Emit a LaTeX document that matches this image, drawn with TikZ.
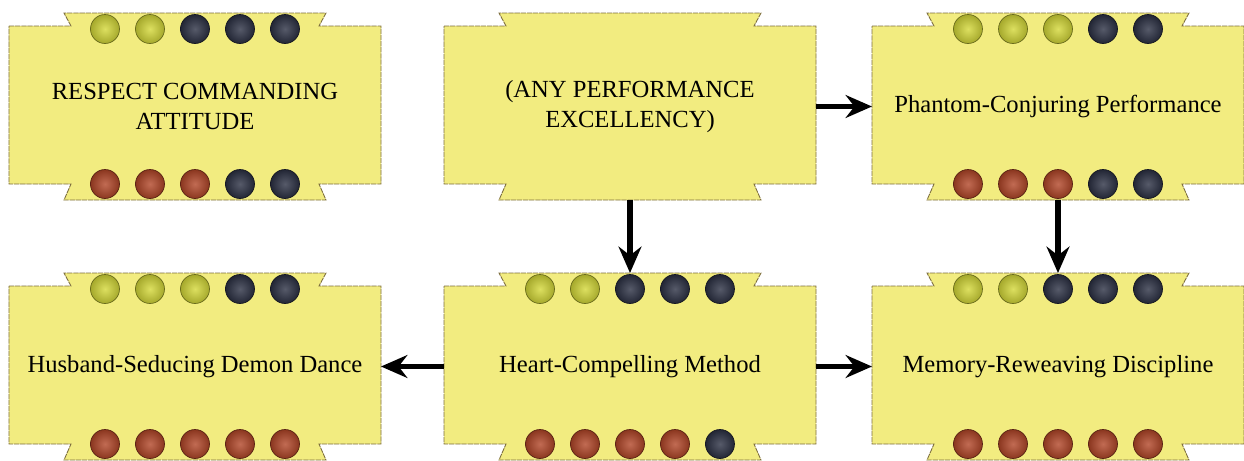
\documentclass[tikz,border=0pt]{standalone}
\usepackage{fontspec}
\setmainfont{Liberation Serif}
\usepackage{xcolor}
\usepackage{tikz}
\usetikzlibrary{arrows.meta, positioning, backgrounds, calc}
\definecolor{bannerfill}{RGB}{242,236,128}
\definecolor{bannerline}{RGB}{125,110,62}
\definecolor{gemy}{RGB}{212,216,56}
\definecolor{gemd}{RGB}{44,49,68}
\definecolor{gemr}{RGB}{178,70,40}

\begin{document}
\begin{tikzpicture}[
      node distance=1.46cm and 1.26cm,
      skill/.style={minimum width=7.44cm, minimum height=3.74cm, inner sep=0pt,
                    outer sep=0pt, align=center, font=\fontsize{14}{17}\selectfont},
      banner/.style={fill=bannerfill, draw=bannerline, line width=0.5pt,
                     dash pattern=on 3pt off 0.5pt},
      gem/.style={inner color=#1!80!white, outer color=#1!78!black,
                  draw=#1!50!black, line width=0.4pt},
      arr/.style={-{Stealth[length=15pt, width=13pt, inset=5pt]}, line width=2.9pt}
  ]
    \node[skill]                    (rca) {RESPECT COMMANDING\\ATTITUDE};
    \node[skill, right=of rca]      (ape) {(ANY PERFORMANCE\\EXCELLENCY)};
    \node[skill, right=1.12cm of ape] (pcp) {Phantom-Conjuring Performance};
    \node[skill, below=of ape]      (hcm) {Heart-Compelling Method};
    \node[skill, left=of hcm]       (hsd) {Husband-Seducing Demon Dance};
    \node[skill, below=of pcp]      (mrd) {Memory-Reweaving Discipline};

    \useasboundingbox ($(rca.north west)+(-0.18,0.26)$) rectangle ++(24.88,-9.18);

    % notched banners behind the texts
    \begin{scope}[on background layer]
      \foreach \n in {rca,ape,pcp,hsd,hcm,mrd}
        \draw[banner] ($(\n.north west)+(0,-0.26)$) -- ($(\n.north west)+(1.24,-0.26)$)
          -- ($(\n.north west)+(1.1,0)$) -- ($(\n.north east)+(-1.1,0)$)
          -- ($(\n.north east)+(-1.24,-0.26)$) -- ($(\n.north east)+(0,-0.26)$)
          -- ($(\n.south east)+(0,0.32)$) -- ($(\n.south east)+(-1.24,0.32)$)
          -- ($(\n.south east)+(-1.1,0)$) -- ($(\n.south west)+(1.1,0)$)
          -- ($(\n.south west)+(1.24,0.32)$) -- ($(\n.south west)+(0,0.32)$) -- cycle;
    \end{scope}

    % gem rows (top / bottom)
    \foreach \n/\tp/\bt in {rca/{gemy,gemy,gemd,gemd,gemd}/{gemr,gemr,gemr,gemd,gemd},
                            pcp/{gemy,gemy,gemy,gemd,gemd}/{gemr,gemr,gemr,gemd,gemd},
                            hsd/{gemy,gemy,gemy,gemd,gemd}/{gemr,gemr,gemr,gemr,gemr},
                            hcm/{gemy,gemy,gemd,gemd,gemd}/{gemr,gemr,gemr,gemr,gemd},
                            mrd/{gemy,gemy,gemd,gemd,gemd}/{gemr,gemr,gemr,gemr,gemr}} {
      \foreach \c [count=\i] in \tp
        \shadedraw[gem=\c] ($(\n.north)+(\i*0.9-2.7,-0.32)$) circle (0.29);
      \foreach \c [count=\i] in \bt
        \shadedraw[gem=\c] ($(\n.south)+(\i*0.9-2.7,0.32)$) circle (0.29);
    }

    \draw[arr] (ape) -- (pcp);
    \draw[arr] (ape) -- (hcm);
    \draw[arr] (pcp) -- (mrd);
    \draw[arr] (hcm) -- (hsd);
    \draw[arr] (hcm) -- (mrd);
  \end{tikzpicture}
\end{document}
